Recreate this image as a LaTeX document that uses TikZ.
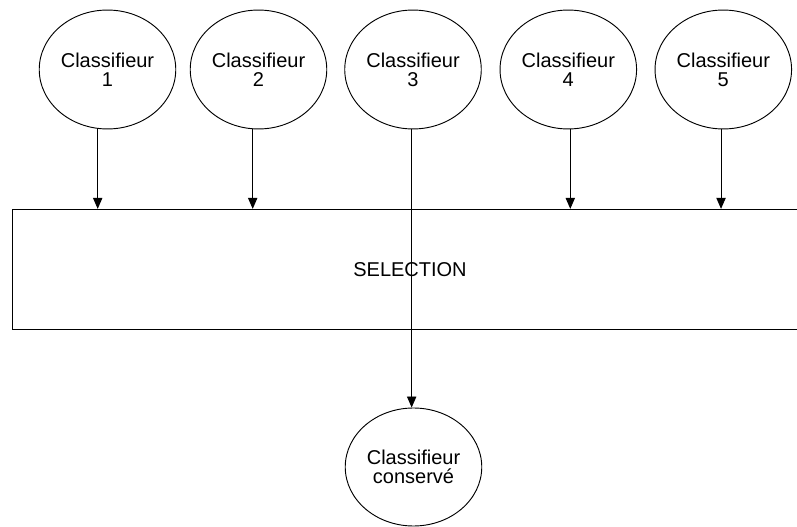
\documentclass[tikz,border=0pt]{standalone}
\usepackage{fontspec}
\setmainfont{Liberation Sans}
\usetikzlibrary{shapes.geometric,arrows.meta}
\begin{document}
\begin{tikzpicture}[x=0.75pt,y=-0.75pt,
  line width=0.7pt,
  every node/.style={font={\fontsize{15}{14.4}\selectfont}, align=center, inner sep=0pt},
  classif/.style={draw, ellipse, minimum width=102.4pt, minimum height=89.2pt},
  selbox/.style={draw, rectangle, minimum width=595.7pt, minimum height=89.8pt},
  arr/.style={-{Triangle[length=8.25pt,width=7pt]}}]
  \useasboundingbox (0,0) rectangle (797,527);
  \clip (0,0) rectangle (797,527);

  % the five classifiers
  \node[classif] (c1) at (107.5,69.5) {Classifieur\\1};
  \node[classif] (c2) at (258.5,69.5) {Classifieur\\2};
  \node[classif] (c3) at (413,69.5)   {Classifieur\\3};
  \node[classif] (c4) at (568.3,69.5) {Classifieur\\4};
  \node[classif] (c5) at (723.3,69.5) {Classifieur\\5};

  % selection block (runs past the right edge)
  \node[selbox] (sel) at (410,269.2) {SELECTION};

  % retained classifier
  \node[classif, minimum height=88.5pt] (keep) at (413.5,467) {Classifieur\\conservé};

  % connectors
  \draw[arr] ([xshift=-7.35pt]c1.south) -- ([xshift=-7.35pt]c1.south |- sel.north);
  \draw[arr] ([xshift=-4.35pt]c2.south) -- ([xshift=-4.35pt]c2.south |- sel.north);
  \draw[arr] ([xshift=1.5pt]c4.south)   -- ([xshift=1.5pt]c4.south |- sel.north);
  \draw[arr] ([xshift=-1.7pt]c5.south)  -- ([xshift=-1.7pt]c5.south |- sel.north);
  \draw[arr] ([xshift=-1pt]c3.south)    -- ([xshift=-1pt]c3.south |- keep.north);
\end{tikzpicture}
\end{document}
